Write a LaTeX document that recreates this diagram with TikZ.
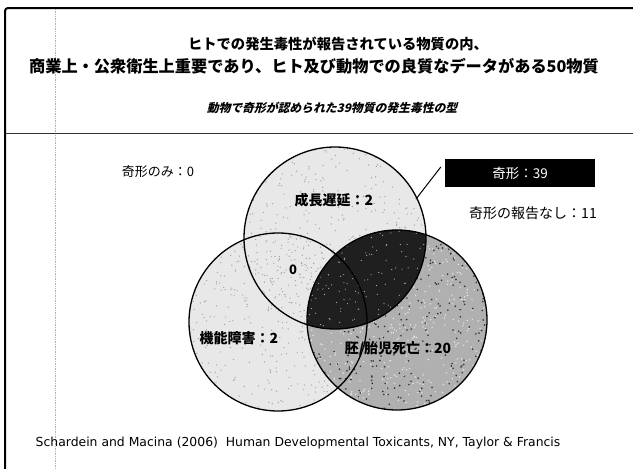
\documentclass[tikz,border=0pt]{standalone}
\usepackage{fontspec}
\setmainfont{DejaVu Sans}
\newfontfamily\jp{Noto Sans CJK JP}
\newfontfamily\jpsl[FakeSlant=0.25]{Noto Sans CJK JP}
\begin{document}
\begin{tikzpicture}[x=1pt,y=-1pt,
  title/.style={font=\jp\bfseries\fontsize{#1}{#1}\selectfont, inner sep=0pt},
  lbl/.style={font=\jp\fontsize{#1}{#1}\selectfont, inner sep=0pt},
  blbl/.style={font=\jp\bfseries\fontsize{#1}{#1}\selectfont, inner sep=0pt},
  ring/.style={draw=black, line width=1.3pt}]
\useasboundingbox (0,0) rectangle (633,469);
\fill[white] (0,0) rectangle (633,469);

% frame and rules
\draw[line width=2pt, rounded corners=3pt] (633,8) -- (5,8) -- (5,469);
\draw[gray!60, densely dotted, line width=0.7pt] (55,9) -- (55,469);
\draw[gray!40!black, line width=1pt] (6,133) -- (633,133);

% titles
\node[title=14.3] (t1) at (338,44) {ヒトでの発生毒性が報告されている物質の内、};
\node[title=16.2] (t2) at (314,66) {商業上・公衆衛生上重要であり、ヒト及び動物での良質なデータがある50物質};
\node[font=\jpsl\bfseries\fontsize{11.8}{11.8}\selectfont, inner sep=0pt] (t3) at (332,108) {動物で奇形が認められた39物質の発生毒性の型};

% circles
\coordinate (cT) at (335,238);
\coordinate (cL) at (278,322);
\coordinate (cR) at (397,320);
\fill[gray!18] (cL) circle (89);
\fill[gray!18] (cT) circle (91);
\begin{scope}
  \clip (cL) circle (89);
  \foreach \i in {1,...,420}{\fill[gray!70] (189+178*rnd, 233+178*rnd) circle (0.7);}
\end{scope}
\begin{scope}
  \clip (cT) circle (91);
  \foreach \i in {1,...,420}{\fill[gray!70] (244+182*rnd, 147+182*rnd) circle (0.7);}
\end{scope}
\fill[gray!62] (cR) circle (90);
\begin{scope}
  \clip (cR) circle (90);
  \foreach \i in {1,...,500}{\fill[white!80!gray] (307+180*rnd, 230+180*rnd) circle (0.8);}
  \foreach \i in {1,...,400}{\fill[black!80] (307+180*rnd, 230+180*rnd) circle (0.9);}
  \clip (cT) circle (91);
  \fill[black!88] (cR) circle (90);
  \foreach \i in {1,...,150}{\fill[gray!60] (307+120*rnd, 230+100*rnd) circle (0.6);}
\end{scope}
\draw[ring] (cL) circle (89);
\draw[ring] (cT) circle (91);
\draw[ring] (cR) circle (90);

% labels
\node[lbl=13] (only) at (158,172) {奇形のみ：0};
\node[blbl=14] (grow) at (334,200) {成長遅延：2};
\node[blbl=13] (zero) at (293,270) {0};
\node[blbl=14] (func) at (239,338) {機能障害：2};
\node[blbl=14] (death) at (398,349) {胚/胎児死亡：20};
\node[lbl=14] (none) at (533,213) {奇形の報告なし：11};
\node[fill=black, text=white, font=\jp\fontsize{13.5}{13.5}\selectfont, minimum width=150pt, minimum height=28pt, inner sep=0pt] (box) at (520,173) {奇形：39};
\coordinate (ptr) at (416,199);
\draw[line width=1pt] ([xshift=-4pt,yshift=6pt]box.west) -- (ptr);

% citation
\node[font=\fontsize{12.4}{12.4}\selectfont, inner sep=0pt] (cite) at (298,443) {Schardein and Macina (2006)\ \ Human Developmental Toxicants, NY, Taylor \& Francis};
\end{tikzpicture}
\end{document}
